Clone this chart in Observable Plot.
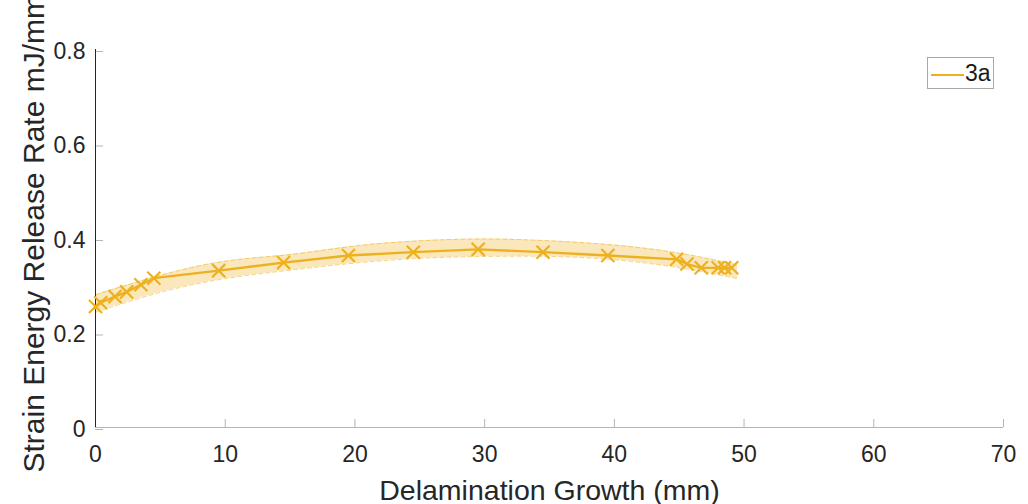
<!DOCTYPE html>
<html>
<head>
<meta charset="utf-8">
<script src="https://cdn.jsdelivr.net/npm/d3@7"></script>
<script src="https://cdn.jsdelivr.net/npm/@observablehq/plot@0.6"></script>
<style>
  html, body { margin: 0; padding: 0; background: #fff; }
  #wrap { position: relative; width: 1028px; height: 504px; overflow: hidden; font-family: "Liberation Sans", Arial, sans-serif; }
  #legend { position: absolute; left: 927px; top: 57px; width: 67px; height: 32px; border: 1px solid #a8a8a8; background: #fff; box-sizing: border-box; }
  #legend svg { position: absolute; left: 2px; top: 15px; }
  #legend span { position: absolute; left: 37px; top: 3px; font-size: 23px; color: #1a1a1a; line-height: 24px; }
</style>
</head>
<body>
<div id="wrap"></div>
<script>
// Delamination growth (mm) at each measured point, specimen 3a
const growth = [0, 0.4, 1.5, 2.4, 3.5, 4.5, 9.5, 14.5, 19.5, 24.5, 29.5, 34.5, 39.5, 44.8, 45.6, 46.7, 48.0, 48.5, 49.05];
// Strain energy release rate (mJ/mm²) at each point
const gRate = [0.256, 0.264, 0.277, 0.287, 0.302, 0.316, 0.332, 0.349, 0.364, 0.371, 0.377, 0.371, 0.364, 0.356, 0.346, 0.338, 0.338, 0.338, 0.338];

// Scatter band around the curve
const bandX = [0, 5, 10, 15, 20, 25, 30, 35, 40, 45, 49.5];
const bandLow = [0.244, 0.286, 0.315, 0.333, 0.348, 0.358, 0.362, 0.362, 0.355, 0.338, 0.315];
const bandHigh = [0.281, 0.322, 0.352, 0.366, 0.384, 0.395, 0.399, 0.395, 0.386, 0.369, 0.344];

const xTicks = [0, 10, 20, 30, 40, 50, 60, 70];
const yTicks = [0, 0.2, 0.4, 0.6, 0.8];
const seriesName = "3a";
const xLabel = "Delamination Growth (mm)";
const yLabel = "Strain Energy Release Rate mJ/mm²";

const gold = "#EDB120";
const points = growth.map((x, i) => ({x, y: gRate[i]}));
const band = bandX.map((x, i) => ({x, lo: bandLow[i], hi: bandHigh[i]}));

const chart = Plot.plot({
  width: 1028,
  height: 504,
  marginLeft: 95,
  marginRight: 25,
  marginTop: 49,
  marginBottom: 77,
  style: {fontFamily: "Liberation Sans, Arial, sans-serif", fontSize: "23px", color: "#262626", background: "#fff"},
  x: {domain: [0, 70]},
  y: {domain: [0, 0.8]},
  marks: [
    Plot.areaY(band, {x: "x", y1: "lo", y2: "hi", fill: gold, fillOpacity: 0.3, curve: "natural"}),
    Plot.line(band, {x: "x", y: "lo", stroke: gold, strokeOpacity: 0.55, strokeWidth: 1, strokeDasharray: "4,3", curve: "natural"}),
    Plot.line(band, {x: "x", y: "hi", stroke: gold, strokeOpacity: 0.55, strokeWidth: 1, strokeDasharray: "4,3", curve: "natural"}),
    Plot.axisX({ticks: xTicks, tickFormat: d3.format("d"), tickSize: -8, tickPadding: 26, stroke: "#b4b4b4", label: null, fontSize: 23}),
    Plot.axisY({ticks: yTicks, tickFormat: d3.format(""), tickSize: -8, tickPadding: 18, stroke: "#b4b4b4", label: null, fontSize: 23, dy: 2}),
    Plot.ruleY([0], {stroke: "#b4b4b4", strokeWidth: 1}),
    Plot.ruleX([0], {y1: 0, y2: 0.8, stroke: "#262626", strokeWidth: 1}),
    Plot.line(points, {x: "x", y: "y", stroke: gold, strokeWidth: 2.3}),
    Plot.dot(points, {x: "x", y: "y", symbol: "times", r: 6, stroke: gold, strokeWidth: 2.2}),
    Plot.text([xLabel], {frameAnchor: "bottom", lineAnchor: "bottom", dy: 72, fontSize: 28.5, fill: "#262626"}),
    Plot.text([yLabel], {frameAnchor: "bottom-left", lineAnchor: "bottom", textAnchor: "start", rotate: -90, dx: -52, dy: 45, fontSize: 30, fill: "#262626"})
  ]
});

const wrap = document.getElementById("wrap");
wrap.appendChild(chart);

// Series key in the upper right
const legend = document.createElement("div");
legend.id = "legend";
legend.innerHTML = `<svg width="34" height="4"><line x1="1" y1="2" x2="34" y2="2" stroke="${gold}" stroke-width="2"/></svg><span>${seriesName}</span>`;
wrap.appendChild(legend);
</script>
</body>
</html>
